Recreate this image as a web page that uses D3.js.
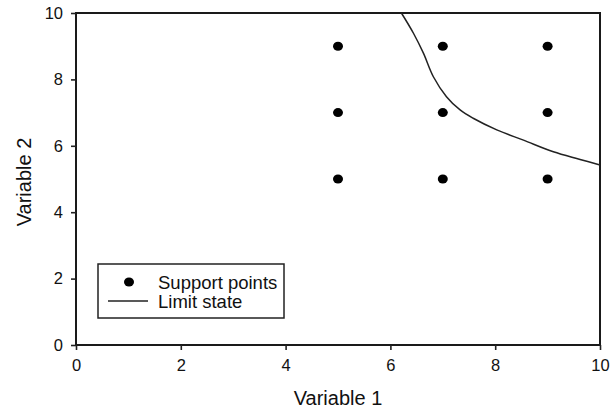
<!DOCTYPE html>
<html lang="en">
<head>
    <meta charset="UTF-8">
    <title>Support points and limit state</title>
    <script src="https://d3js.org/d3.v7.min.js"></script>
    <style>
        body { margin: 0; background: #fff; }
        text { font-family: "Liberation Sans", Arial, Helvetica, sans-serif; fill: #111; }
    </style>
</head>
<body>
<script>
    // support points grid
    var supportX = [5, 7, 9];
    var supportY = [5, 7, 9];

    // limit state curve
    var limitX = [6.21, 6.44, 6.63, 6.82, 7.07, 7.33, 7.58, 8.03, 8.54, 9.11, 9.62, 10];
    var limitY = [10, 9.39, 8.79, 8.08, 7.48, 7.08, 6.83, 6.48, 6.17, 5.82, 5.59, 5.42];

    var xTicks = [0, 2, 4, 6, 8, 10];
    var yTicks = [0, 2, 4, 6, 8, 10];

    var margin = {top: 13, right: 11, bottom: 64, left: 76},
        width = 611 - margin.left - margin.right,
        height = 409 - margin.top - margin.bottom;

    var svg = d3.select("body").append("svg")
        .attr("width", 611)
        .attr("height", 409)
        .append("g")
        .attr("transform", "translate(" + margin.left + "," + margin.top + ")");

    var x = d3.scaleLinear().domain([0, 10]).range([0, width]);
    var y = d3.scaleLinear().domain([0, 10]).range([height, 0]);

    // frame
    svg.append("rect")
        .attr("width", width)
        .attr("height", height)
        .attr("fill", "none")
        .attr("stroke", "#1a1a1a")
        .attr("stroke-width", 2);

    // x axis
    var gx = svg.append("g")
        .attr("transform", "translate(0," + height + ")")
        .call(d3.axisBottom(x).tickValues(xTicks).tickSize(5).tickPadding(9).tickFormat(d3.format("d")));
    gx.select(".domain").remove();
    gx.selectAll("line").attr("stroke", "#222").attr("stroke-width", 1.6);
    gx.selectAll("text").style("font-size", "16.5px").attr("fill", "#111");

    // y axis
    var gy = svg.append("g")
        .call(d3.axisLeft(y).tickValues(yTicks).tickSize(5).tickPadding(8).tickFormat(d3.format("d")));
    gy.select(".domain").remove();
    gy.selectAll("line").attr("stroke", "#222").attr("stroke-width", 1.6);
    gy.selectAll("text").style("font-size", "16.5px").attr("fill", "#111");

    // axis titles
    svg.append("text")
        .attr("x", width / 2)
        .attr("y", height + 60)
        .attr("text-anchor", "middle")
        .style("font-size", "20px")
        .text("Variable 1");

    svg.append("text")
        .attr("transform", "translate(" + (-45) + "," + (height / 2 + 3) + ") rotate(-90)")
        .attr("text-anchor", "middle")
        .style("font-size", "20px")
        .text("Variable 2");

    // limit state line
    var lineData = limitX.map(function(d, i) { return [d, limitY[i]]; });
    var line = d3.line()
        .x(function(d) { return x(d[0]); })
        .y(function(d) { return y(d[1]); })
        .curve(d3.curveCatmullRom.alpha(0.5));

    svg.append("path")
        .datum(lineData)
        .attr("d", line)
        .attr("fill", "none")
        .attr("stroke", "#222")
        .attr("stroke-width", 1.5);

    // support points
    var points = [];
    supportX.forEach(function(px) {
        supportY.forEach(function(py) { points.push([px, py]); });
    });

    svg.selectAll(".pt")
        .data(points)
        .enter()
        .append("ellipse")
        .attr("class", "pt")
        .attr("cx", function(d) { return x(d[0]); })
        .attr("cy", function(d) { return y(d[1]); })
        .attr("rx", 5)
        .attr("ry", 4.5)
        .attr("fill", "#000");

    // legend
    var legend = svg.append("g")
        .attr("transform", "translate(22,251)");

    legend.append("rect")
        .attr("width", 186)
        .attr("height", 54)
        .attr("fill", "#fff")
        .attr("stroke", "#222")
        .attr("stroke-width", 1.5);

    legend.append("ellipse")
        .attr("cx", 31)
        .attr("cy", 18)
        .attr("rx", 5)
        .attr("ry", 4.5)
        .attr("fill", "#000");

    legend.append("line")
        .attr("x1", 10).attr("x2", 50)
        .attr("y1", 37).attr("y2", 37)
        .attr("stroke", "#222")
        .attr("stroke-width", 1.6);

    legend.append("text")
        .attr("x", 60)
        .attr("y", 24.5)
        .style("font-size", "18.5px")
        .text("Support points");

    legend.append("text")
        .attr("x", 60)
        .attr("y", 43.5)
        .style("font-size", "18.5px")
        .text("Limit state");
</script>
</body>
</html>
